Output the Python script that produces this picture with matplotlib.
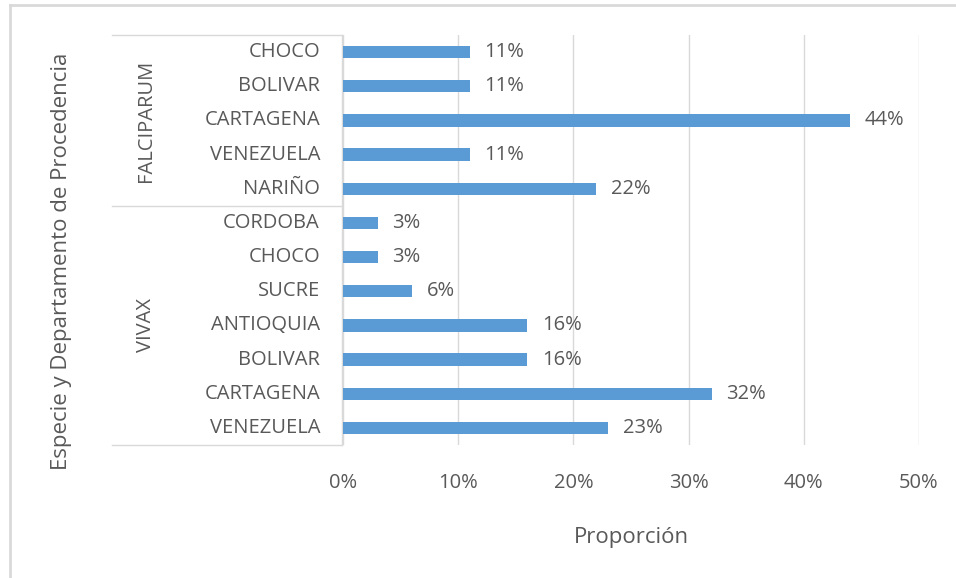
import matplotlib
matplotlib.use("Agg")
import matplotlib.pyplot as plt
import matplotlib.transforms as mtransforms
from matplotlib.lines import Line2D
from matplotlib.ticker import PercentFormatter

# grupos y departamentos, de arriba hacia abajo
species = ["FALCIPARUM", "VIVAX"]
falciparum_depts = ["CHOCO", "BOLIVAR", "CARTAGENA", "VENEZUELA", "NARIÑO"]
falciparum_vals = [11, 11, 44, 11, 22]
vivax_depts = ["CORDOBA", "CHOCO", "SUCRE", "ANTIOQUIA", "BOLIVAR", "CARTAGENA", "VENEZUELA"]
vivax_vals = [3, 3, 6, 16, 16, 32, 23]
x_ticks = [0, 10, 20, 30, 40, 50]

TXT = "#595959"
BAR = "#5B9BD5"
GRID = "#D9D9D9"
plt.rcParams['font.family'] = ['Open Sans', 'DejaVu Sans']
FS = 14.5
FS_T = 16

W, H = 956, 578
fig = plt.figure(figsize=(W / 100, H / 100), dpi=100)

def px(x0, y0, x1, y1):
    return [x0 / W, 1 - y1 / H, (x1 - x0) / W, (y1 - y0) / H]

ax = fig.add_axes(px(343, 35, 919, 445))

depts = falciparum_depts + vivax_depts
vals = falciparum_vals + vivax_vals
ypos = list(range(len(depts)))

ax.barh(ypos, vals, height=0.36, color=BAR, zorder=3)
for y, v in zip(ypos, vals):
    ax.annotate(f"{v}%", xy=(v, y), xytext=(10.5, 0), textcoords="offset points",
                va="center", ha="left", fontsize=FS, color=TXT)

ax.set_xlim(0, 50)
ax.set_ylim(len(depts) - 0.5, -0.5)
ax.set_xticks(x_ticks)
ax.xaxis.set_major_formatter(PercentFormatter(decimals=0))
ax.grid(axis="x", color=GRID, linewidth=1, zorder=0)
ax.set_yticks([])
for s in ax.spines.values():
    s.set_visible(False)
ax.tick_params(axis="x", length=0, pad=20.5, labelsize=FS, labelcolor=TXT)

# etiquetas de categorias (dos niveles)
trans = mtransforms.blended_transform_factory(ax.transAxes, ax.transData)
x_left = (112 - 343) / 576
x_cat = (320 - 343) / 576
x_grp = (146 - 343) / 576
for y, d in zip(ypos, depts):
    ax.text(x_cat, y, d, transform=trans, ha="right", va="center",
            fontsize=FS, color=TXT)

n_f = len(falciparum_depts)
bounds = [-0.5, n_f - 0.5, len(depts) - 0.5]
for b in bounds:
    ax.add_line(Line2D([x_left, -0.002], [b, b], transform=trans, color=GRID,
                       linewidth=1, clip_on=False))
ax.add_line(Line2D([-0.002, -0.002], [bounds[0], bounds[-1]], transform=trans,
                   color=GRID, linewidth=1, clip_on=False))
for i, sp in enumerate(species):
    yc = (bounds[i] + bounds[i + 1]) / 2
    ax.text(x_grp, yc, sp, transform=trans, rotation=90, ha="center", va="center",
            fontsize=FS, color=TXT)

fig.text(631 / W, 1 - 537 / H, "Proporción", ha="center", va="center",
         fontsize=FS_T, color=TXT)
fig.text(62 / W, 1 - 261 / H, "Especie y Departamento de Procedencia", rotation=90,
         ha="center", va="center", fontsize=FS_T, color=TXT)

# borde exterior del grafico
fig.add_artist(Line2D([10 / W, 1], [1 - 5 / H, 1 - 5 / H], color="#D9D9D9", linewidth=2))
fig.add_artist(Line2D([10 / W, 10 / W], [0, 1 - 5 / H], color="#D9D9D9", linewidth=2))

fig.savefig("out.png", dpi=100)
